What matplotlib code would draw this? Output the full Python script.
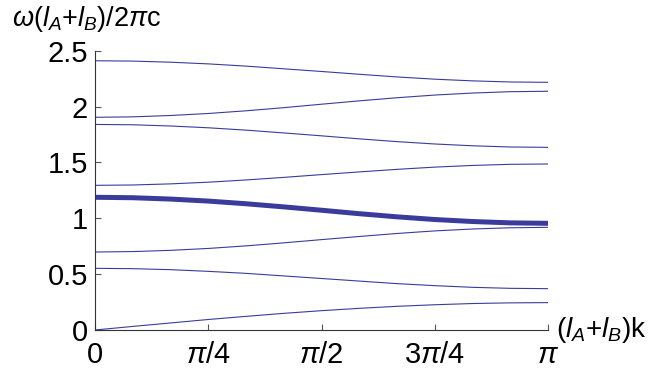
import numpy as np
import matplotlib
matplotlib.use('Agg')
import matplotlib.pyplot as plt

plt.rcParams['font.family'] = ['Liberation Sans', 'DejaVu Sans']
plt.rcParams['mathtext.fontset'] = 'custom'
plt.rcParams['mathtext.rm'] = 'Liberation Sans'
plt.rcParams['mathtext.it'] = 'Liberation Sans:italic'
plt.rcParams['mathtext.sf'] = 'Liberation Sans'

# wavevector samples, 0 .. pi in steps of pi/12
k = np.array([0, 1, 2, 3, 4, 5, 6, 7, 8, 9, 10, 11, 12]) * np.pi / 12

# bands (omega (lA+lB) / 2 pi c)
band1 = [0.000, 0.032, 0.063, 0.094, 0.122, 0.149, 0.173, 0.194, 0.212, 0.226, 0.237, 0.243, 0.245]
band2 = [0.552, 0.549, 0.540, 0.525, 0.507, 0.484, 0.461, 0.438, 0.415, 0.397, 0.382, 0.373, 0.370]
band3 = [0.698, 0.702, 0.713, 0.730, 0.753, 0.780, 0.809, 0.837, 0.864, 0.887, 0.904, 0.915, 0.919]
band4 = [1.188, 1.184, 1.172, 1.154, 1.130, 1.102, 1.072, 1.041, 1.013, 0.989, 0.971, 0.959, 0.955]
band5 = [1.295, 1.298, 1.308, 1.323, 1.343, 1.366, 1.391, 1.415, 1.438, 1.458, 1.473, 1.483, 1.486]
band6 = [1.840, 1.837, 1.826, 1.810, 1.789, 1.764, 1.738, 1.711, 1.686, 1.665, 1.649, 1.638, 1.635]
band7 = [1.904, 1.908, 1.920, 1.938, 1.962, 1.990, 2.021, 2.051, 2.079, 2.103, 2.121, 2.133, 2.137]
band8 = [2.410, 2.407, 2.397, 2.382, 2.362, 2.338, 2.314, 2.289, 2.265, 2.245, 2.230, 2.220, 2.217]

thin_bands = [band1, band2, band3, band5, band6, band7, band8]
thick_band = band4

xticks = [0, np.pi/4, np.pi/2, 3*np.pi/4, np.pi]
xticklabels = ['0', r'$\pi$/4', r'$\pi$/2', r'3$\pi$/4', r'$\pi$']
yticks = [0, 0.5, 1, 1.5, 2, 2.5]
yticklabels = ['0', '0.5', '1', '1.5', '2', '2.5']

col = '#3b3b9c'

fig = plt.figure(figsize=(6.65, 3.68), dpi=100)
ax = fig.add_axes([95/665, 38/368, 453/665, 279.3/368])

for b in thin_bands:
    ax.plot(k, b, color=col, lw=0.8, solid_capstyle='butt')
ax.plot(k, thick_band, color=col, lw=3.6, solid_capstyle='butt')

ax.set_xlim(0, np.pi)
ax.set_ylim(0, 2.5)
ax.set_xticks(xticks)
ax.set_xticklabels(xticklabels)
ax.set_yticks(yticks)
ax.set_yticklabels(yticklabels)
ax.tick_params(direction='in', length=4, width=0.8, color='#555555',
               labelsize=21)
ax.tick_params(axis='x', pad=8)
ax.tick_params(axis='y', pad=5)

for side in ['top', 'right']:
    ax.spines[side].set_visible(False)
for side in ['left', 'bottom']:
    ax.spines[side].set_color('#333333')
    ax.spines[side].set_linewidth(0.8)

fig.text(12/665, 1 - 19/368, r'$\omega(l_A$+$l_B)$/2$\pi$c', fontsize=19.5,
         ha='left', va='center')
fig.text(556/665, 1 - 330/368, r'($l_A$+$l_B$)k', fontsize=20,
         ha='left', va='center')

fig.savefig('out.png', dpi=100)
